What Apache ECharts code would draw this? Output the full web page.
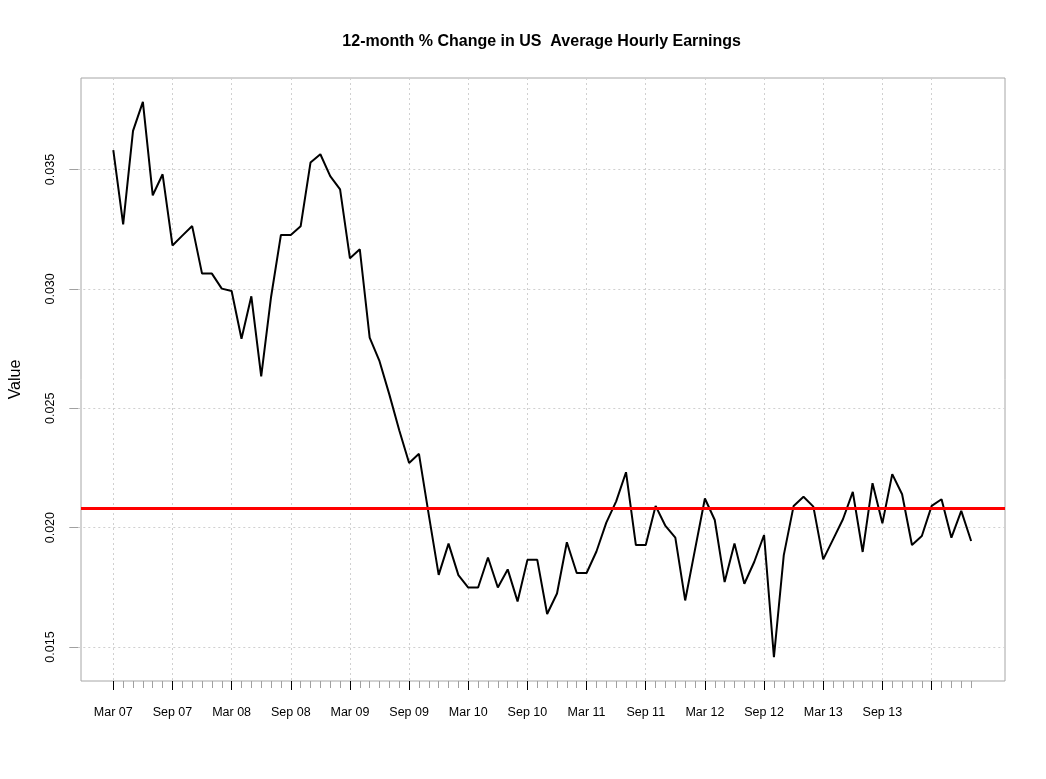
<!DOCTYPE html>
<html>
<head>
<meta charset="utf-8">
<script src="https://cdn.jsdelivr.net/npm/echarts@6/dist/echarts.min.js"></script>
<style>
html,body{margin:0;padding:0;background:#fff;}
#c{width:1046px;height:779px;}
</style>
</head>
<body>
<div id="c"></div>
<script>
// ---- data ----
const months = [
 "Mar 07","Apr 07","May 07","Jun 07","Jul 07","Aug 07","Sep 07","Oct 07","Nov 07","Dec 07",
 "Jan 08","Feb 08","Mar 08","Apr 08","May 08","Jun 08","Jul 08","Aug 08","Sep 08","Oct 08","Nov 08","Dec 08",
 "Jan 09","Feb 09","Mar 09","Apr 09","May 09","Jun 09","Jul 09","Aug 09","Sep 09","Oct 09","Nov 09","Dec 09",
 "Jan 10","Feb 10","Mar 10","Apr 10","May 10","Jun 10","Jul 10","Aug 10","Sep 10","Oct 10","Nov 10","Dec 10",
 "Jan 11","Feb 11","Mar 11","Apr 11","May 11","Jun 11","Jul 11","Aug 11","Sep 11","Oct 11","Nov 11","Dec 11",
 "Jan 12","Feb 12","Mar 12","Apr 12","May 12","Jun 12","Jul 12","Aug 12","Sep 12","Oct 12","Nov 12","Dec 12",
 "Jan 13","Feb 13","Mar 13","Apr 13","May 13","Jun 13","Jul 13","Aug 13","Sep 13","Oct 13","Nov 13","Dec 13",
 "Jan 14","Feb 14","Mar 14","Apr 14","May 14","Jun 14"
];
const values = [
 0.03581,0.03270,0.03662,0.03783,0.03392,0.03480,0.03182,0.03223,0.03263,0.03064,
 0.03064,0.03001,0.02991,0.02791,0.02969,0.02633,0.02966,0.03226,0.03226,0.03262,0.03529,0.03564,
 0.03472,0.03417,0.03128,0.03166,0.02796,0.02697,0.02557,0.02408,0.02271,0.02309,0.02052,0.01802,
 0.01933,0.01801,0.01749,0.01749,0.01875,0.01749,0.01825,0.01691,0.01865,0.01865,0.01638,0.01724,
 0.01939,0.01810,0.01810,0.01900,0.02021,0.02110,0.02232,0.01927,0.01927,0.02091,0.02007,0.01958,
 0.01695,0.01909,0.02122,0.02032,0.01772,0.01934,0.01765,0.01856,0.01969,0.01457,0.01885,0.02091,
 0.02129,0.02088,0.01867,0.01951,0.02035,0.02150,0.01898,0.02186,0.02018,0.02224,0.02140,0.01927,
 0.01965,0.02091,0.02119,0.01958,0.02070,0.01944
];
const refLevel = 0.0208;
const labelMonths = ["Mar 07","Sep 07","Mar 08","Sep 08","Mar 09","Sep 09","Mar 10","Sep 10",
 "Mar 11","Sep 11","Mar 12","Sep 12","Mar 13","Sep 13"];
const majorTickMonths = labelMonths.concat(["Feb 14"]);
const yTickMin = 0.015, yTickMax = 0.035, yTickStep = 0.005;
const titleText = "12-month % Change in US  Average Hourly Earnings";
const yName = "Value";

// ---- layout ----
const box = {l: 78.3, r: 1005, t: 78, b: 681};
const yTopPx = 169.5, yBotPx = 647;           // pixel rows of yTickMax / yTickMin
const pxPerUnit = (yBotPx - yTopPx) / (yTickMax - yTickMin);
const yMaxBox = yTickMax + (yTopPx - box.t) / pxPerUnit;
const yMinBox = yTickMin - (box.b - yBotPx) / pxPerUnit;
const xFirst = 113.3, xStep = 9.86;
const FONT = "'Liberation Sans', Arial, sans-serif";

const labelSet = new Set(labelMonths);
const majorSet = new Set(majorTickMonths);

const chart = echarts.init(document.getElementById('c'), null, {renderer: 'canvas'});
const hidden = {show: false};
chart.setOption({
  animation: false,
  backgroundColor: '#fff',
  graphic: [{
    type: 'text', x: (box.l + box.r) / 2, y: 42, z: 10,
    style: {text: titleText, font: "bold 16px " + FONT, fill: '#000',
            textAlign: 'center', textVerticalAlign: 'middle'}
  }],
  grid: [
    {left: box.l, top: box.t, width: box.r - box.l, height: box.b - box.t,
     show: true, borderColor: '#a6a6a6', borderWidth: 1, backgroundColor: 'transparent'},
    {left: box.l, top: yTopPx, width: box.r - box.l, height: yBotPx - yTopPx},
    {left: xFirst, top: box.t, width: xStep * (months.length - 1), height: box.b - box.t}
  ],
  xAxis: [
    {gridIndex: 0, type: 'value', min: 0, max: 1, show: false},
    {gridIndex: 1, type: 'value', min: 0, max: 1, show: false},
    {gridIndex: 2, type: 'category', data: months, boundaryGap: false, position: 'bottom',
     axisLine: hidden, axisLabel: hidden, splitLine: hidden,
     axisTick: {show: true, interval: 0, length: 7, lineStyle: {color: '#a0a0a0', width: 1}}},
    {gridIndex: 2, type: 'category', data: months, boundaryGap: false, position: 'bottom',
     axisLine: hidden,
     axisTick: {show: true, length: 9, interval: (i, v) => majorSet.has(v),
                lineStyle: {color: '#000', width: 1}},
     axisLabel: {show: true, interval: (i, v) => labelSet.has(v), margin: 25,
                 fontSize: 12.5, fontFamily: FONT, color: '#000'},
     splitLine: {show: true, interval: (i, v) => majorSet.has(v),
                 lineStyle: {color: '#d0d0d0', type: [2, 3], width: 1}}}
  ],
  yAxis: [
    {gridIndex: 0, type: 'value', min: yMinBox, max: yMaxBox,
     axisLine: hidden, axisTick: hidden, axisLabel: hidden, splitLine: hidden,
     name: yName, nameLocation: 'middle', nameGap: 57,
     nameTextStyle: {fontSize: 16, fontFamily: FONT, color: '#000'}},
    {gridIndex: 1, type: 'value', min: yTickMin, max: yTickMax, interval: yTickStep,
     axisLine: hidden,
     axisTick: {show: true, length: 9, lineStyle: {color: '#a0a0a0', width: 1}},
     axisLabel: {show: true, rotate: 90, margin: 21, fontSize: 12.5, fontFamily: FONT, color: '#000',
                 formatter: v => v.toFixed(3)},
     splitLine: {show: true, lineStyle: {color: '#d0d0d0', type: [2, 3], width: 1}}},
    {gridIndex: 2, type: 'value', min: yMinBox, max: yMaxBox, show: false}
  ],
  series: [
    {type: 'line', xAxisIndex: 3, yAxisIndex: 2, data: values, showSymbol: false,
     lineStyle: {color: '#000', width: 2}, z: 3, silent: true},
    {type: 'line', xAxisIndex: 0, yAxisIndex: 0, data: [[0, refLevel], [1, refLevel]],
     showSymbol: false, lineStyle: {color: '#ff0000', width: 3}, z: 5, silent: true}
  ]
});
</script>
</body>
</html>
